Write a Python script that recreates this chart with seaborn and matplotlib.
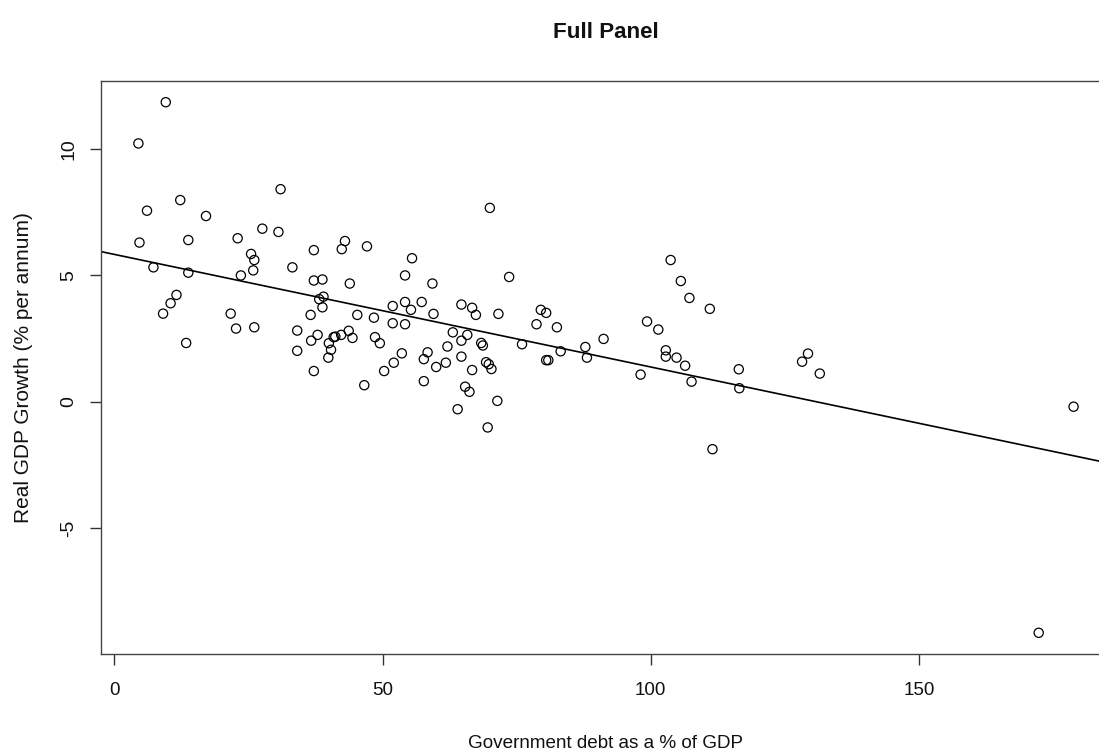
import numpy as np
import pandas as pd
import matplotlib
matplotlib.use("Agg")
import matplotlib.pyplot as plt
from matplotlib import font_manager
import seaborn as sns

# Government debt (% of GDP) and real GDP growth (% per annum)
debt = [
    9.6, 4.5, 31.0, 12.3, 6.1, 17.1, 27.6, 30.6, 4.7, 13.8, 23.0,
    25.5, 26.1, 25.9, 33.2, 7.3, 13.8, 23.6, 11.6, 10.5, 9.1, 21.7,
    22.7, 26.1, 13.4, 34.1, 34.1,
    37.2, 43.0, 42.4, 47.1, 55.5, 37.2, 38.8, 43.9, 54.2, 59.3,
    38.2, 39.0, 38.8, 36.6, 45.3, 48.4, 51.9, 54.2, 55.3, 57.3, 59.5,
    64.7, 66.7, 67.4,
    51.9, 54.2, 37.9, 36.7, 40.9, 40.0, 42.3, 43.7, 44.4, 41.2, 48.6,
    49.5, 40.4, 39.9, 37.2, 46.6, 53.6, 52.1, 50.3, 58.4, 57.7, 60.0,
    61.8, 57.7, 62.1, 64.7, 66.7, 65.4, 66.2, 64.0, 63.1, 64.7, 65.8,
    70.0, 73.6, 71.6, 79.5, 80.5, 78.7, 82.5,
    68.4, 68.7, 76.0, 83.2, 87.8, 88.1, 91.2, 69.3, 69.8, 70.3,
    80.5, 80.9, 71.4, 69.6,
    103.7, 105.6, 107.2, 111.0, 99.3, 101.4, 102.8, 102.8, 104.8,
    106.4, 98.1, 107.6, 116.4, 116.5, 111.5, 128.2, 129.3, 131.5,
    178.8, 172.3,
]
growth = [
    11.85, 10.22, 8.41, 7.98, 7.56, 7.35, 6.85, 6.72, 6.30, 6.40, 6.47,
    5.85, 5.61, 5.20, 5.32, 5.32, 5.11, 5.00, 4.23, 3.90, 3.49, 3.49,
    2.90, 2.95, 2.33, 2.82, 2.02,
    6.00, 6.36, 6.04, 6.15, 5.68, 4.80, 4.84, 4.68, 5.00, 4.68,
    4.06, 4.16, 3.74, 3.44, 3.44, 3.33, 3.79, 3.95, 3.64, 3.95, 3.48,
    3.85, 3.72, 3.44,
    3.11, 3.07, 2.65, 2.42, 2.56, 2.32, 2.65, 2.81, 2.53, 2.58, 2.56,
    2.32, 2.06, 1.75, 1.22, 0.66, 1.92, 1.55, 1.22, 1.96, 1.69, 1.38,
    1.55, 0.82, 2.19, 1.79, 1.26, 0.60, 0.40, -0.29, 2.75, 2.42, 2.65,
    7.67, 4.94, 3.48, 3.64, 3.52, 3.07, 2.95,
    2.33, 2.23, 2.28, 2.00, 2.17, 1.75, 2.49, 1.57, 1.49, 1.30,
    1.65, 1.65, 0.04, -1.01,
    5.61, 4.78, 4.11, 3.68, 3.18, 2.86, 2.04, 1.79, 1.75,
    1.43, 1.08, 0.80, 1.29, 0.54, -1.87, 1.59, 1.91, 1.12,
    -0.19, -9.13,
]

x_ticks = [0, 50, 100, 150]
y_ticks = [-5, 0, 5, 10]

df = pd.DataFrame({"debt": debt, "growth": growth})

sns.set_style("white")
plt.rcParams["font.family"] = ["Liberation Sans", "DejaVu Sans"]

# a condensed face for horizontal text, when available
installed = {f.name for f in font_manager.fontManager.ttflist}
if "Liberation Sans Narrow" in installed:
    narrow = ["Liberation Sans Narrow", "Liberation Sans", "DejaVu Sans"]
    hscale = 1.0
else:
    narrow = ["Liberation Sans", "DejaVu Sans"]
    hscale = 0.85
regular = ["Liberation Sans", "DejaVu Sans"]

fig = plt.figure(figsize=(10.99, 7.54), dpi=100)
ax = fig.add_axes([0.0919, 0.1326, 0.919, 0.760])

sns.scatterplot(data=df, x="debt", y="growth", ax=ax, marker="o",
                s=44, facecolor="none", edgecolor="black", linewidth=0.9)

# axis ranges padded 4% beyond the data, as in R's default
xr = max(debt) - min(debt)
yr = max(growth) - min(growth)
ax.set_xlim(min(debt) - 0.04 * xr, max(debt) + 0.04 * xr)
ax.set_ylim(min(growth) - 0.04 * yr, max(growth) + 0.04 * yr)

# least-squares fit across the full x range
sns.regplot(data=df, x="debt", y="growth", ax=ax, scatter=False, ci=None,
            truncate=False, line_kws={"color": "black", "linewidth": 1.2})

ax.set_xticks(x_ticks)
ax.set_xticklabels([str(t) for t in x_ticks], family=narrow,
                   fontsize=16 * hscale, color="#111111")
ax.set_yticks(y_ticks)
ax.set_yticklabels([str(t) for t in y_ticks], rotation=90, va="center",
                   family=regular, fontsize=14, color="#111111")
ax.tick_params(axis="both", direction="out", length=8, width=1,
               color="#333333", bottom=True, left=True)
ax.tick_params(axis="x", pad=12)
ax.tick_params(axis="y", pad=9)

for sp in ax.spines.values():
    sp.set_visible(True)
    sp.set_color("#444444")
    sp.set_linewidth(1.0)

ax.set_xlabel("Government debt as a % of GDP", family=narrow,
              fontsize=16 * hscale, color="#111111")
ax.set_ylabel("Real GDP Growth (% per annum)", family=regular,
              fontsize=15, color="#111111")
ax.xaxis.set_label_coords(0.5, -0.142)
ax.yaxis.set_label_coords(-0.067, 0.5)

fig.text(606 / 1099, 1 - 32 / 754, "Full Panel", ha="center", va="center",
         family=narrow, fontsize=19 * hscale, fontweight="bold",
         color="#111111")

fig.savefig("out.png", dpi=100)
